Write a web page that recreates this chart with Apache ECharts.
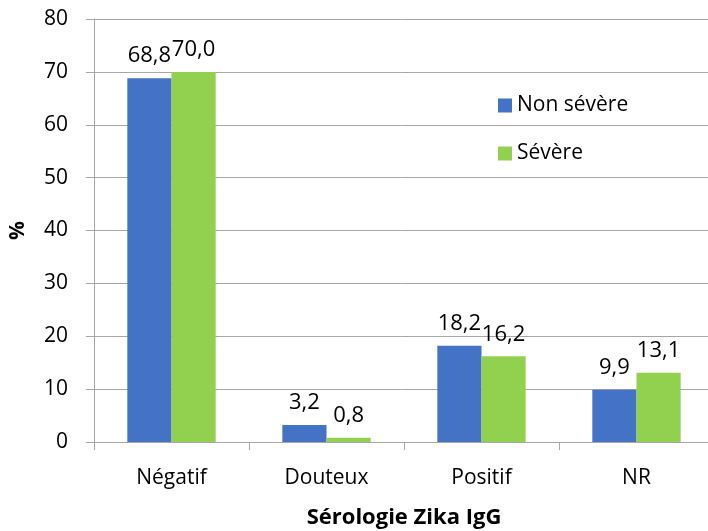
<!DOCTYPE html>
<html>
<head>
<meta charset="utf-8">
<script src="https://cdn.jsdelivr.net/npm/echarts@6/dist/echarts.min.js"></script>
<style>
  html, body { margin: 0; padding: 0; background: #fff; }
  #chart { width: 708px; height: 531px; }
</style>
</head>
<body>
<div id="chart"></div>
<script>
// Sérologie Zika IgG : répartition (%) selon la sévérité
const categories = ['Négatif', 'Douteux', 'Positif', 'NR'];
const nonSevere = [68.8, 3.2, 18.2, 9.9];
const severe = [70.0, 0.8, 16.2, 13.1];
const seriesNames = ['Non sévère', 'Sévère'];
const yTicks = { min: 0, max: 80, step: 10 };

const FONT = 'Open Sans';
const gridColor = '#A6A6A6';

const chart = echarts.init(document.getElementById('chart'), null, { renderer: 'canvas' });

const valueLabel = {
  show: true,
  position: 'top',
  distance: 11,
  fontFamily: FONT,
  fontSize: 22,
  color: '#000',
  formatter: p => p.value.toFixed(1).replace('.', ',')
};

chart.setOption({
  animation: false,
  backgroundColor: '#fff',
  textStyle: { fontFamily: FONT },
  grid: {
    left: 94, right: -6, top: 19, bottom: 89,
    containLabel: false,
    outerBoundsMode: 'none'
  },
  legend: {
    orient: 'vertical',
    left: 498,
    top: 95,
    padding: 0,
    itemWidth: 14,
    itemHeight: 14,
    itemGap: 27,
    icon: 'rect',
    textStyle: { fontFamily: FONT, fontSize: 21, color: '#000' },
    data: seriesNames
  },
  xAxis: {
    type: 'category',
    data: categories,
    name: 'Sérologie Zika IgG',
    nameLocation: 'middle',
    nameGap: 65,
    nameTextStyle: { fontFamily: FONT, fontSize: 22, fontWeight: 'bold', color: '#000' },
    axisLine: { show: true, lineStyle: { color: gridColor, width: 1 } },
    axisTick: { show: true, length: 8, alignWithLabel: false, lineStyle: { color: gridColor } },
    axisLabel: { fontFamily: FONT, fontSize: 21, color: '#000', margin: 26 }
  },
  yAxis: {
    type: 'value',
    min: yTicks.min,
    max: yTicks.max,
    interval: yTicks.step,
    name: '%',
    nameLocation: 'middle',
    nameGap: 65,
    nameRotate: 90,
    nameTextStyle: { fontFamily: FONT, fontSize: 21, fontWeight: 'bold', color: '#000' },
    axisLine: { show: true, lineStyle: { color: gridColor, width: 1 } },
    axisTick: { show: true, length: 8, lineStyle: { color: gridColor } },
    axisLabel: { fontFamily: FONT, fontSize: 21, color: '#000', margin: 26 },
    splitLine: { show: true, lineStyle: { color: gridColor, width: 1 } }
  },
  series: [
    {
      name: seriesNames[0],
      type: 'bar',
      data: nonSevere,
      itemStyle: { color: '#4472C4' },
      barGap: '0%',
      barCategoryGap: '43%',
      label: valueLabel
    },
    {
      name: seriesNames[1],
      type: 'bar',
      data: severe,
      itemStyle: { color: '#92D050' },
      barGap: '0%',
      barCategoryGap: '43%',
      label: valueLabel
    }
  ]
});
</script>
</body>
</html>
